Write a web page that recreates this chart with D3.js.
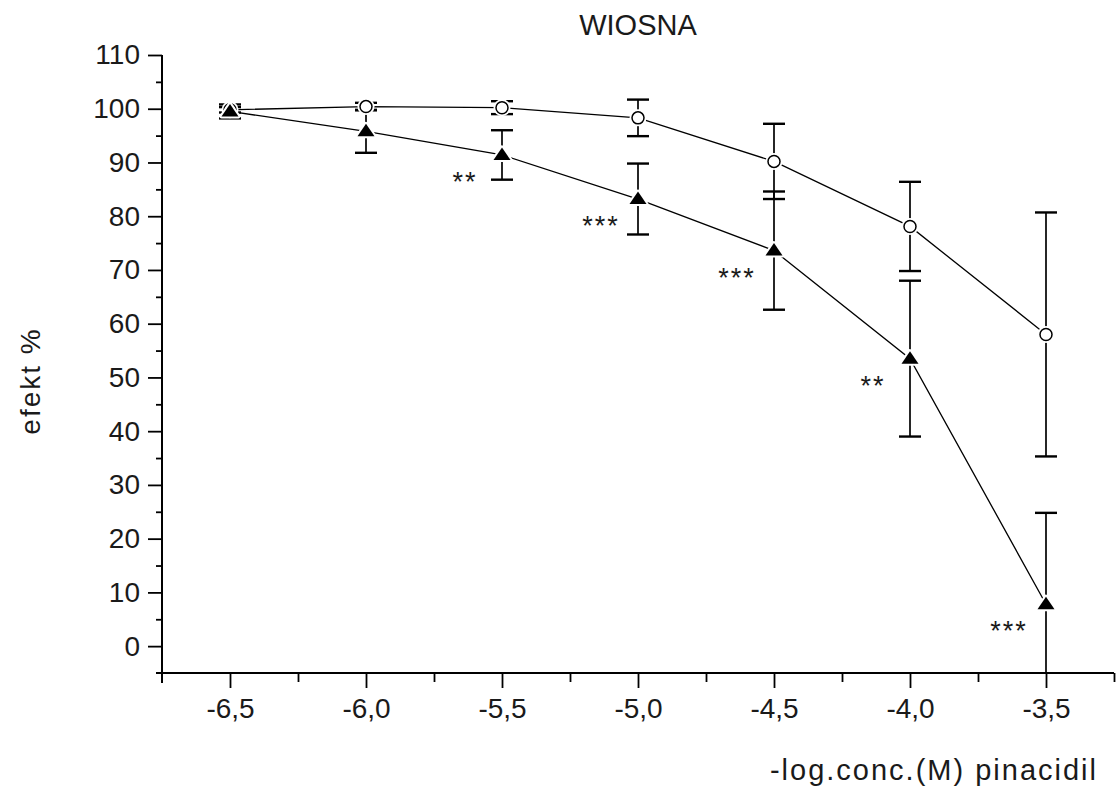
<!DOCTYPE html>
<html>
<head>
<meta charset="utf-8">
<script src="https://cdn.jsdelivr.net/npm/d3@7"></script>
<style>
  html, body { margin: 0; padding: 0; background: #fff; }
  svg { display: block; }
  text { font-family: "Liberation Sans", Arial, sans-serif; fill: #1a1a1a; }
</style>
</head>
<body>
<svg id="chart" width="1117" height="805"></svg>
<script>
// ---- data ----
const xVals      = [-6.5, -6.0, -5.5, -5.0, -4.5, -4.0, -3.5];
const circleMean = [99.8, 100.4, 100.2, 98.3, 90.2, 78.1, 58];
const circleErr  = [0.5, 0.7, 1.2, 3.4, 7, 8.3, 22.7];
const triMean    = [99.5, 95.8, 91.4, 83.2, 73.6, 53.5, 7.8];
const triErr     = [1.3, 4, 4.6, 6.6, 11, 14.5, 17];
const triSig     = ["", "", "**", "***", "***", "**", "***"];
const xTicks     = [-6.5, -6.0, -5.5, -5.0, -4.5, -4.0, -3.5];
const xMinor     = [-6.25, -5.75, -5.25, -4.75, -4.25, -3.75, -3.25];
const yTicks     = [0, 10, 20, 30, 40, 50, 60, 70, 80, 90, 100, 110];
const yMinor     = [5, 15, 25, 35, 45, 55, 65, 75, 85, 95, 105];
const titleText  = "WIOSNA";
const xLabel     = "-log.conc.(M) pinacidil";
const yLabel     = "efekt %";

// ---- layout ----
const svg = d3.select("#chart");
const X0 = 162, X1 = 1114, Y0 = 673, Y1 = 55;
const x = d3.scaleLinear().domain([-6.75, -3.25]).range([X0, X1]);
const y = d3.scaleLinear().domain([-5, 110]).range([Y0, Y1]);

const loc = d3.formatLocale({decimal: ",", thousands: ".", grouping: [3], currency: ["", ""], minus: "-"});
const fmt1 = loc.format(".1f");

const FS = 28;

// clip for plot area
svg.append("defs").append("clipPath").attr("id", "plot")
  .append("rect").attr("x", X0).attr("y", Y1 - 20).attr("width", X1 - X0 + 10).attr("height", Y0 - Y1 + 20);

// ---- axes ----
const xAxis = svg.append("g").attr("transform", `translate(0,${Y0})`)
  .call(d3.axisBottom(x).tickValues(xTicks).tickSize(15).tickPadding(10).tickSizeOuter(0).tickFormat(fmt1));
const xAxisMinor = svg.append("g").attr("transform", `translate(0,${Y0})`)
  .call(d3.axisBottom(x).tickValues(xMinor).tickSize(9).tickSizeOuter(0).tickFormat(""));
const yAxis = svg.append("g").attr("transform", `translate(${X0},0)`)
  .call(d3.axisLeft(y).tickValues(yTicks).tickSize(14).tickPadding(8).tickSizeOuter(0).tickFormat(d3.format("d")));
const yAxisMinor = svg.append("g").attr("transform", `translate(${X0},0)`)
  .call(d3.axisLeft(y).tickValues(yMinor).tickSize(6).tickSizeOuter(0).tickFormat(""));

[xAxis, xAxisMinor, yAxis, yAxisMinor].forEach(g => {
  g.select(".domain").remove();
  g.selectAll(".tick line").attr("stroke", "#000").attr("stroke-width", 1.8);
  g.selectAll(".tick text").style("font-size", FS + "px").style("font-family", "'Liberation Sans', Arial, sans-serif").attr("fill", "#1a1a1a");
});
// axis lines
svg.append("line").attr("x1", X0 - 6).attr("x2", X1).attr("y1", Y0).attr("y2", Y0)
  .attr("stroke", "#000").attr("stroke-width", 2);
svg.append("line").attr("x1", X0).attr("x2", X0).attr("y1", Y1).attr("y2", Y0 + 10)
  .attr("stroke", "#000").attr("stroke-width", 2);

// ---- texts ----
svg.append("text").attr("x", (X0 + X1) / 2).attr("y", 35).attr("text-anchor", "middle")
  .style("font-size", "29px").text(titleText);
svg.append("text").attr("x", 1098).attr("y", 780).attr("text-anchor", "end")
  .style("font-size", "29px").style("letter-spacing", "2px").text(xLabel);
svg.append("text").attr("transform", `translate(40,381) rotate(-90)`).attr("text-anchor", "middle")
  .style("font-size", "28px").style("letter-spacing", "2px").text(yLabel);

// ---- series ----
const plot = svg.append("g").attr("clip-path", "url(#plot)");
const circData = xVals.map((v, i) => ({x: v, m: circleMean[i], e: circleErr[i]}));
const triData  = xVals.map((v, i) => ({x: v, m: triMean[i], e: triErr[i], s: triSig[i]}));

const line = d3.line().x(d => x(d.x)).y(d => y(d.m));
plot.append("path").datum(circData).attr("d", line).attr("fill", "none").attr("stroke", "#000").attr("stroke-width", 1.3);
plot.append("path").datum(triData).attr("d", line).attr("fill", "none").attr("stroke", "#000").attr("stroke-width", 1.3);

function errorBars(data) {
  const g = plot.append("g");
  data.forEach(d => {
    const cx = x(d.x), yt = y(d.m + d.e), yb = y(d.m - d.e);
    g.append("line").attr("x1", cx).attr("x2", cx).attr("y1", yt).attr("y2", yb)
      .attr("stroke", "#000").attr("stroke-width", 1.7);
    [yt, yb].forEach(yy => {
      if (yy <= Y0) g.append("line").attr("x1", cx - 11).attr("x2", cx + 11).attr("y1", yy).attr("y2", yy)
        .attr("stroke", "#000").attr("stroke-width", 2.4);
    });
  });
}
errorBars(circData);
errorBars(triData);

const triPath = "M0,-7.5L8.5,5L-8.5,5Z";
// white halos around markers
plot.selectAll(".chalo").data(circData).join("circle")
  .attr("cx", d => x(d.x)).attr("cy", d => y(d.m)).attr("r", 8.5).attr("fill", "#fff");
// circle markers
plot.selectAll(".circ").data(circData).join("circle")
  .attr("cx", d => x(d.x)).attr("cy", d => y(d.m)).attr("r", 6)
  .attr("fill", "#fff").attr("stroke", "#000").attr("stroke-width", 1.5);
// triangle halos + markers (on top)
plot.selectAll(".thalo").data(triData).join("path")
  .attr("transform", d => `translate(${x(d.x)},${y(d.m)})`).attr("d", triPath)
  .attr("fill", "#fff").attr("stroke", "#fff").attr("stroke-width", 4).attr("stroke-linejoin", "round");
plot.selectAll(".tri").data(triData).join("path")
  .attr("transform", d => `translate(${x(d.x)},${y(d.m)})`).attr("d", triPath)
  .attr("fill", "#000");

// significance stars
svg.selectAll(".sig").data(triData.filter(d => d.s)).join("text")
  .attr("x", d => x(d.x) - 37).attr("y", d => y(d.m) + 20 + 16)
  .attr("text-anchor", "middle").style("font-size", "27px")
  .style("letter-spacing", "2px").text(d => d.s);
</script>
</body>
</html>
